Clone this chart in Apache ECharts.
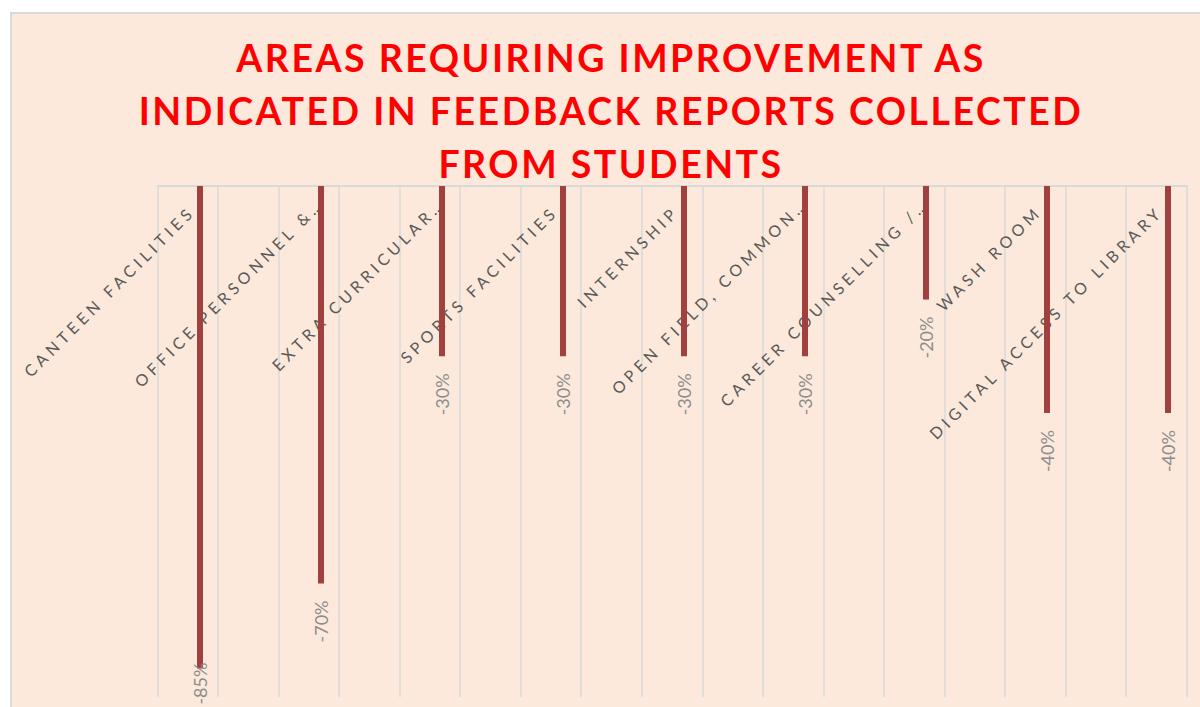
<!DOCTYPE html>
<html>
<head>
<meta charset="utf-8">
<script src="https://cdn.jsdelivr.net/npm/echarts@6/dist/echarts.min.js"></script>
<style>
  html, body { margin: 0; padding: 0; background: #ffffff; }
  #frame {
    position: absolute; left: 10px; top: 12px; width: 1300px; height: 800px;
    background: #FCE9DC; border: 2px solid #D9D9D9; box-sizing: border-box;
  }
  #main { position: absolute; left: 0; top: 0; width: 1200px; height: 707px; overflow: hidden; }
  /* 字间距：类别标签和标题 */
  #main text[fill="#595958"] { letter-spacing: 4.3px; }
  #main text[fill="#FF0000"] { letter-spacing: 2.5px; }
</style>
</head>
<body>
<div id="frame"></div>
<div id="main"></div>
<script>
// 数据
const categories = [
  'CANTEEN FACILITIES',
  'OFFICE PERSONNEL &…',
  'EXTRA CURRICULAR…',
  'SPORTS FACILITIES',
  'INTERNSHIP',
  'OPEN FIELD, COMMON…',
  'CAREER COUNSELLING /…',
  'WASH ROOM',
  'DIGITAL ACCESS TO LIBRARY'
]
const values = [-0.85, -0.70, -0.30, -0.30, -0.30, -0.30, -0.20, -0.40, -0.40]
const titleLines = [
  'AREAS REQUIRING IMPROVEMENT AS',
  'INDICATED IN FEEDBACK REPORTS COLLECTED',
  'FROM STUDENTS'
]
// 背景竖线的格数
const gridSlots = 17

const isCut = (s) => s.endsWith('…')

const labelBase = {
  show: true,
  inside: true,
  rotate: -45,
  interval: 0,
  margin: 14,
  color: '#595958',
  fontSize: 16,
  fontFamily: 'Lato'
}

const chart = echarts.init(document.getElementById('main'), null, { renderer: 'svg' })

chart.setOption({
  backgroundColor: 'transparent',
  animation: false,
  title: {
    text: titleLines.join('\n'),
    left: 611,
    top: 31,
    padding: 0,
    textAlign: 'center',
    textStyle: {
      color: '#FF0000',
      fontFamily: 'Lato',
      fontWeight: 'bold',
      fontSize: 37.5,
      lineHeight: 53
    }
  },
  grid: [
    { left: 139.5, top: 186, width: 1089, height: 511, outerBoundsMode: 'none' },
    { left: 157.5, top: 186, width: 1029, height: 511, outerBoundsMode: 'none' }
  ],
  xAxis: [
    {
      type: 'category',
      gridIndex: 0,
      data: categories,
      position: 'top',
      axisLine: { show: false, onZero: false },
      axisTick: { show: false },
      splitLine: { show: false },
      axisLabel: Object.assign({}, labelBase, {
        padding: [0, 12, 0, 0],
        formatter: (v) => (isCut(v) ? '' : v)
      })
    },
    {
      type: 'category',
      gridIndex: 0,
      data: categories,
      position: 'top',
      axisLine: { show: false, onZero: false },
      axisTick: { show: false },
      splitLine: { show: false },
      axisLabel: Object.assign({}, labelBase, {
        formatter: (v) => (isCut(v) ? v : '')
      })
    },
    {
      type: 'category',
      gridIndex: 1,
      data: new Array(gridSlots).fill(''),
      position: 'top',
      axisLine: { show: true, onZero: false, lineStyle: { color: '#D9D9D9', width: 2 } },
      axisTick: { show: false },
      axisLabel: { show: false },
      splitLine: { show: true, interval: 0, lineStyle: { color: '#D9D9D9', width: 1.5 } }
    }
  ],
  yAxis: [
    { type: 'value', gridIndex: 0, min: -0.9, max: 0, show: false },
    { type: 'value', gridIndex: 1, show: false }
  ],
  series: [
    {
      type: 'bar',
      xAxisIndex: 0,
      yAxisIndex: 0,
      barWidth: 6,
      itemStyle: { color: '#A0413F' },
      // 超出绘图区的标签往上挪
      data: values.map((v) => (v < -0.8 ? { value: v, label: { distance: -6 } } : v)),
      label: {
        show: true,
        position: 'bottom',
        distance: 17,
        rotate: 90,
        align: 'right',
        verticalAlign: 'middle',
        color: '#8C8C8C',
        fontSize: 18,
        fontFamily: 'Lato',
        formatter: (p) => Math.round(p.value * 100) + '%'
      }
    }
  ]
})
</script>
</body>
</html>
